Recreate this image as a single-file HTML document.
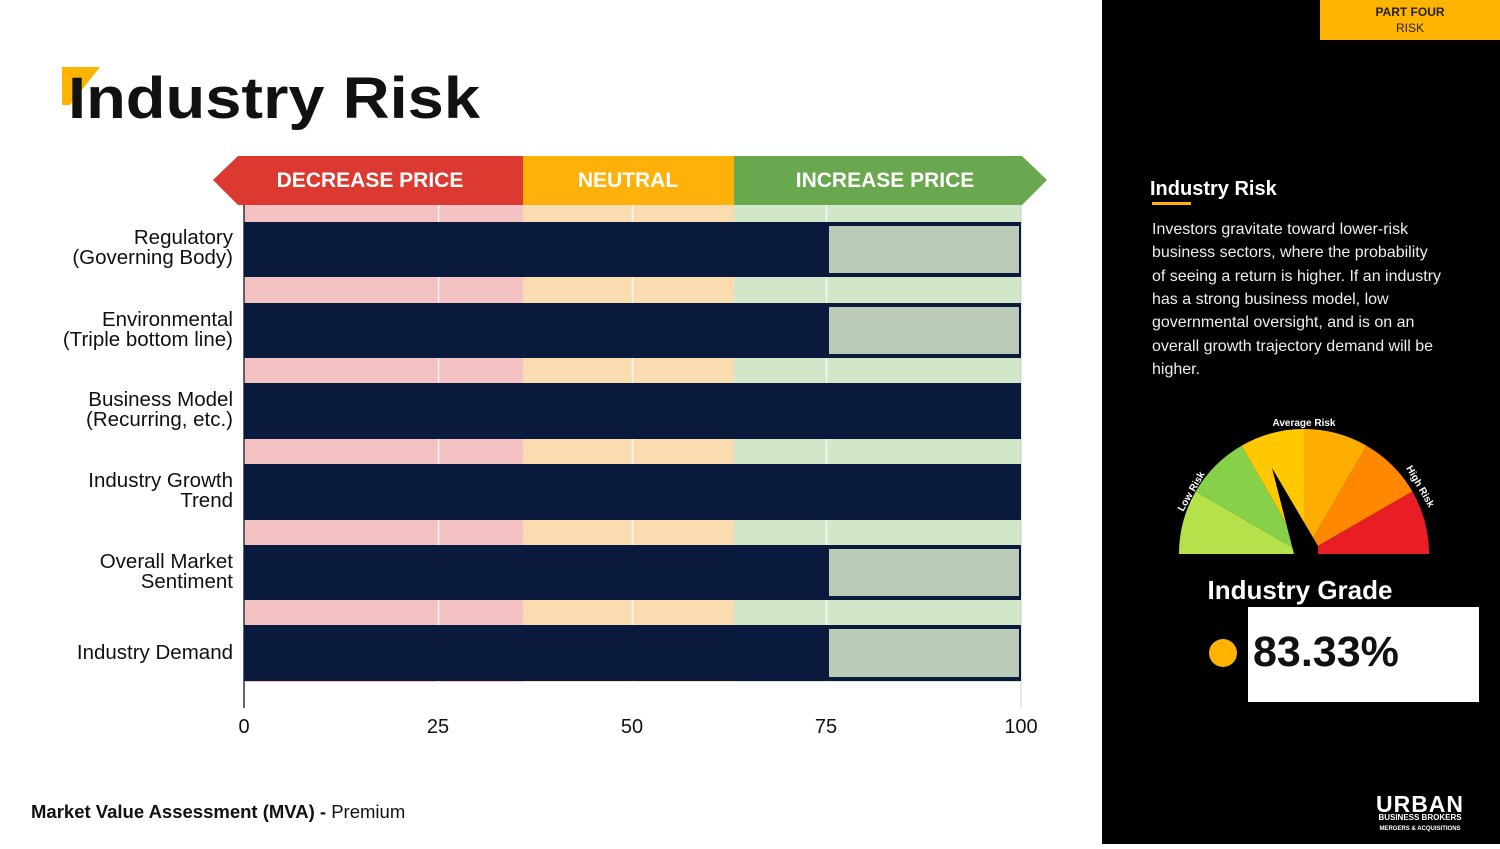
<!DOCTYPE html><html><head><style>body{margin:0;width:1500px;height:844px;overflow:hidden;background:#fff;font-family:"Liberation Sans",sans-serif}</style></head><body>
<svg width="1500" height="844" viewBox="0 0 1500 844" xmlns="http://www.w3.org/2000/svg" font-family="Liberation Sans, sans-serif">
<rect x="1102" y="0" width="398" height="844" fill="#000"/>
<rect x="1320" y="0" width="180" height="40" fill="#ffb400"/>
<text x="1410" y="16" font-size="12" font-weight="bold" fill="#222" text-anchor="middle">PART FOUR</text>
<text x="1410" y="32" font-size="12" fill="#222" text-anchor="middle">RISK</text>
<polygon points="62,67 100,67 70,105 62,105" fill="#ffb400"/>
<text x="68" y="118" font-size="58" font-weight="bold" fill="#111" textLength="412" lengthAdjust="spacingAndGlyphs">Industry Risk</text>
<g>
<rect x="244" y="205" width="279" height="477" fill="#f4c2c2"/>
<rect x="523" y="205" width="211" height="477" fill="#fbdcb0"/>
<rect x="734" y="205" width="287" height="477" fill="#d2e6c8"/>
</g>
<g stroke="#fff" stroke-width="1.5" opacity="0.8"><line x1="438.5" y1="195" x2="438.5" y2="708"/><line x1="632.5" y1="195" x2="632.5" y2="708"/><line x1="826.5" y1="195" x2="826.5" y2="708"/></g>
<line x1="1021" y1="195" x2="1021" y2="708" stroke="#ccc"/>
<line x1="244" y1="195" x2="244" y2="708" stroke="#333" stroke-width="1.5"/>
<polygon points="213,180 238,156 523,156 523,205 238,205" fill="#dc3a30"/>
<rect x="523" y="156" width="211" height="49" fill="#ffb10a"/>
<polygon points="734,156 1022,156 1047,180 1022,205 734,205" fill="#6aa84f"/>
<g fill="#fff" font-size="21" font-weight="bold" text-anchor="middle"><text x="370" y="187">DECREASE PRICE</text><text x="628" y="187">NEUTRAL</text><text x="885" y="187">INCREASE PRICE</text></g>
<g fill="#0a1a3c">
<rect x="244" y="222" width="777" height="55"/><rect x="244" y="303" width="777" height="55"/><rect x="244" y="383" width="777" height="56"/><rect x="244" y="464" width="777" height="56"/><rect x="244" y="545" width="777" height="55"/><rect x="244" y="625" width="777" height="56"/>
</g>
<g fill="#bccbb8">
<rect x="829" y="226" width="190" height="47"/><rect x="829" y="307" width="190" height="47"/><rect x="829" y="549" width="190" height="47"/><rect x="829" y="629" width="190" height="48"/>
</g>
<g font-size="20.5" fill="#111" text-anchor="end">
<text x="233" y="244">Regulatory</text><text x="233" y="264">(Governing Body)</text>
<text x="233" y="326">Environmental</text><text x="233" y="346">(Triple bottom line)</text>
<text x="233" y="406">Business Model</text><text x="233" y="426">(Recurring, etc.)</text>
<text x="233" y="487">Industry Growth</text><text x="233" y="507">Trend</text>
<text x="233" y="568">Overall Market</text><text x="233" y="588">Sentiment</text>
<text x="233" y="659">Industry Demand</text>
</g>
<g font-size="20" fill="#111" text-anchor="middle"><text x="244" y="733">0</text><text x="438" y="733">25</text><text x="632" y="733">50</text><text x="826" y="733">75</text><text x="1021" y="733">100</text></g>
<text x="31" y="818" font-size="18.5" fill="#111"><tspan font-weight="bold">Market Value Assessment (MVA) - </tspan>Premium</text>
<text x="1150" y="195" font-size="20" font-weight="bold" fill="#fff">Industry Risk</text>
<rect x="1152" y="202" width="39" height="3" fill="#ffb400"/>
<g font-size="16" fill="#eee">
<text x="1152" y="234">Investors gravitate toward lower-risk</text>
<text x="1152" y="257">business sectors, where the probability</text>
<text x="1152" y="281">of seeing a return is higher. If an industry</text>
<text x="1152" y="304">has a strong business model, low</text>
<text x="1152" y="327">governmental oversight, and is on an</text>
<text x="1152" y="351">overall growth trajectory demand will be</text>
<text x="1152" y="374">higher.</text>
</g>
<g>
<path d="M1304,554 L1179,554 A125,125 0 0 1 1195.7,491.5Z" fill="#b5e24a"/>
<path d="M1304,554 L1195.7,491.5 A125,125 0 0 1 1241.5,445.7Z" fill="#86d04a"/>
<path d="M1304,554 L1241.5,445.7 A125,125 0 0 1 1304,429Z" fill="#ffc800"/>
<path d="M1304,554 L1304,429 A125,125 0 0 1 1366.5,445.7Z" fill="#ffad00"/>
<path d="M1304,554 L1366.5,445.7 A125,125 0 0 1 1412.3,491.5Z" fill="#ff8800"/>
<path d="M1304,554 L1412.3,491.5 A125,125 0 0 1 1429,554Z" fill="#e81e24"/>
<polygon points="1272,468 1294,554 1318,554 1318,546" fill="#000"/>
<rect x="1175" y="554" width="260" height="10" fill="#000"/>
</g>
<text x="1304" y="426" font-size="10" font-weight="bold" fill="#fff" text-anchor="middle">Average Risk</text>
<text transform="translate(1183,512) rotate(-60)" font-size="10" font-weight="bold" fill="#fff">Low Risk</text>
<text transform="translate(1406,468) rotate(60)" font-size="10" font-weight="bold" fill="#fff">High Risk</text>
<text x="1300" y="599" font-size="26" font-weight="bold" fill="#fff" text-anchor="middle">Industry Grade</text>
<circle cx="1223" cy="653" r="14" fill="#ffb400"/>
<rect x="1248" y="607" width="231" height="95" fill="#fff"/>
<text x="1253" y="666" font-size="43" font-weight="bold" fill="#111">83.33%</text>
<text x="1420" y="812" font-size="23" font-weight="bold" fill="#fff" text-anchor="middle" letter-spacing="1">URBAN</text>
<text x="1420" y="820" font-size="8" font-weight="bold" fill="#fff" text-anchor="middle">BUSINESS BROKERS</text>
<text x="1420" y="830" font-size="6" font-weight="bold" fill="#fff" text-anchor="middle">MERGERS &amp; ACQUISITIONS</text>
</svg>
</body></html>
